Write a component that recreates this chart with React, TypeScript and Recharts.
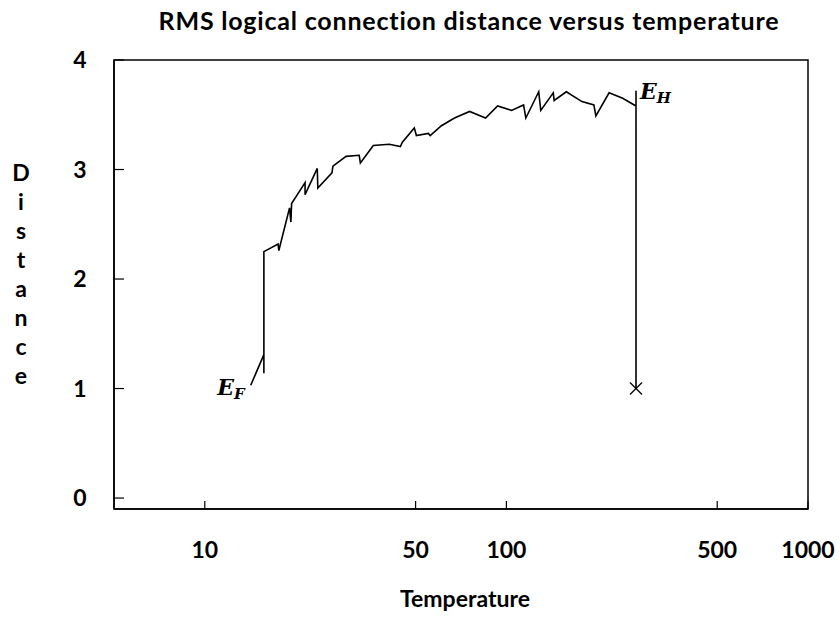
import React from "react";
import {
  ComposedChart,
  Line,
  XAxis,
  YAxis,
  ReferenceArea,
} from "recharts";

// temperature (log axis) and RMS distance in drawing order
const temps = [
  14.2, 15.7, 15.7, 15.7, 17.5, 17.6, 19.1, 19.3, 19.4, 21.5, 21.5, 23.6, 23.7,
  26.4, 26.6, 29.4, 32.5, 32.8, 36.2, 40.9, 44.5, 45.2, 49.5, 50.3, 55.1, 55.9,
  60.9, 67.3, 75.5, 85.3, 93.5, 104, 114, 116, 128, 130, 143, 144, 158, 178,
  195, 198, 219, 243, 269, 269, 269,
];
const distances = [
  1.03, 1.31, 1.14, 2.25, 2.32, 2.26, 2.65, 2.52, 2.69, 2.88, 2.77, 3.01, 2.83,
  2.97, 3.03, 3.12, 3.13, 3.06, 3.22, 3.23, 3.21, 3.25, 3.38, 3.31, 3.33, 3.31,
  3.4, 3.47, 3.53, 3.47, 3.58, 3.54, 3.59, 3.47, 3.71, 3.54, 3.7, 3.63, 3.71,
  3.62, 3.59, 3.49, 3.7, 3.65, 3.58, 3.72, 1.0,
];
const xTicks = [10, 50, 100, 500, 1000];
const yTicks = [0, 1, 2, 3, 4];
const yLabel = "Distance";

const FONT = "Lato, 'Liberation Sans', sans-serif";
const MATH = "'DejaVu Serif', serif";

const data = temps.map((t, i) => ({ t, d: distances[i] }));
const lastIdx = data.length - 1;
const topIdx = data.length - 2;

function XTick(props: any) {
  const { x, y, payload } = props;
  return (
    <g>
      <line x1={x} y1={y} x2={x} y2={y - 8} stroke="#000" strokeWidth={1.2} />
      <text x={x} y={y + 49} textAnchor="middle" fontFamily={FONT} fontWeight="bold" fontSize={23} fill="#000">
        {payload.value}
      </text>
    </g>
  );
}

function YTick(props: any) {
  const { x, y, payload } = props;
  return (
    <g>
      <line x1={x} y1={y} x2={x + 10} y2={y} stroke="#000" strokeWidth={1.2} />
      <text x={x - 34} y={y + 8} textAnchor="middle" fontFamily={FONT} fontWeight="bold" fontSize={23} fill="#000">
        {payload.value}
      </text>
    </g>
  );
}

function renderDot(props: any) {
  const { cx, cy, index } = props;
  if (index === 0) {
    return (
      <text key="ef" x={cx - 6} y={cy + 10} textAnchor="end" fontFamily={MATH} fontStyle="italic" fontWeight="bold" fontSize={22} fill="#000">
        E<tspan fontSize={15} dy={4}>F</tspan>
      </text>
    );
  }
  if (index === topIdx) {
    return (
      <text key="eh" x={cx + 4} y={cy + 8} fontFamily={MATH} fontStyle="italic" fontWeight="bold" fontSize={22} fill="#000">
        E<tspan fontSize={15} dy={4}>H</tspan>
      </text>
    );
  }
  if (index === lastIdx) {
    return (
      <g key="x">
        <line x1={cx - 6} y1={cy - 6} x2={cx + 6} y2={cy + 6} stroke="#000" strokeWidth={1.2} />
        <line x1={cx - 6} y1={cy + 6} x2={cx + 6} y2={cy - 6} stroke="#000" strokeWidth={1.2} />
      </g>
    );
  }
  return <g key={`d${index}`} />;
}

function StackedLabel(props: any) {
  const vb = props.viewBox || { y: 60, height: 449 };
  const cy = vb.y + vb.height / 2 - 10;
  const step = 29;
  const start = cy - ((yLabel.length - 1) / 2) * step;
  return (
    <text textAnchor="middle" fontFamily={FONT} fontWeight="bold" fontSize={23} fill="#000">
      {yLabel.split("").map((c, i) => (
        <tspan key={i} x={21} y={start + i * step + 8}>
          {c}
        </tspan>
      ))}
    </text>
  );
}

function XLabel(props: any) {
  const vb = props.viewBox || { x: 114, width: 694 };
  return (
    <text x={vb.x + vb.width / 2 + 4} y={607} textAnchor="middle" fontFamily={FONT} fontWeight="bold" fontSize={23} fill="#000">
      Temperature
    </text>
  );
}

export default function App() {
  return (
    <div style={{ position: "absolute", left: 0, top: 0, width: 840, height: 619, background: "#fff" }}>
      <div
        style={{
          position: "absolute",
          left: 114,
          width: 710,
          top: 5,
          textAlign: "center",
          fontFamily: FONT,
          fontWeight: "bold",
          fontSize: 25,
          letterSpacing: 0.8,
          color: "#000",
        }}
      >
        RMS logical connection distance versus temperature
      </div>
      <ComposedChart
        width={840}
        height={619}
        data={data}
        margin={{ top: 60, right: 32, bottom: 70, left: 54 }}
      >
        <XAxis
          dataKey="t"
          type="number"
          scale="log"
          domain={[5, 1000]}
          ticks={xTicks}
          allowDataOverflow
          height={40}
          tickSize={0}
          tickMargin={0}
          tickLine={false}
          axisLine={{ stroke: "#000", strokeWidth: 1.5 }}
          tick={<XTick />}
          interval={0}
          label={{ content: <XLabel /> }}
        />
        <YAxis
          type="number"
          domain={[-0.1, 4]}
          ticks={yTicks}
          allowDataOverflow
          width={60}
          tickSize={0}
          tickMargin={0}
          tickLine={false}
          axisLine={{ stroke: "#000", strokeWidth: 1.5 }}
          tick={<YTick />}
          interval={0}
          label={{ content: <StackedLabel /> }}
        />
        <ReferenceArea x1={5} x2={1000} y1={-0.1} y2={4} fill="none" stroke="#000" strokeWidth={1.5} />
        <Line
          dataKey="d"
          type="linear"
          stroke="#000"
          strokeWidth={1.6}
          dot={renderDot}
          activeDot={false}
          isAnimationActive={false}
        />
      </ComposedChart>
    </div>
  );
}
